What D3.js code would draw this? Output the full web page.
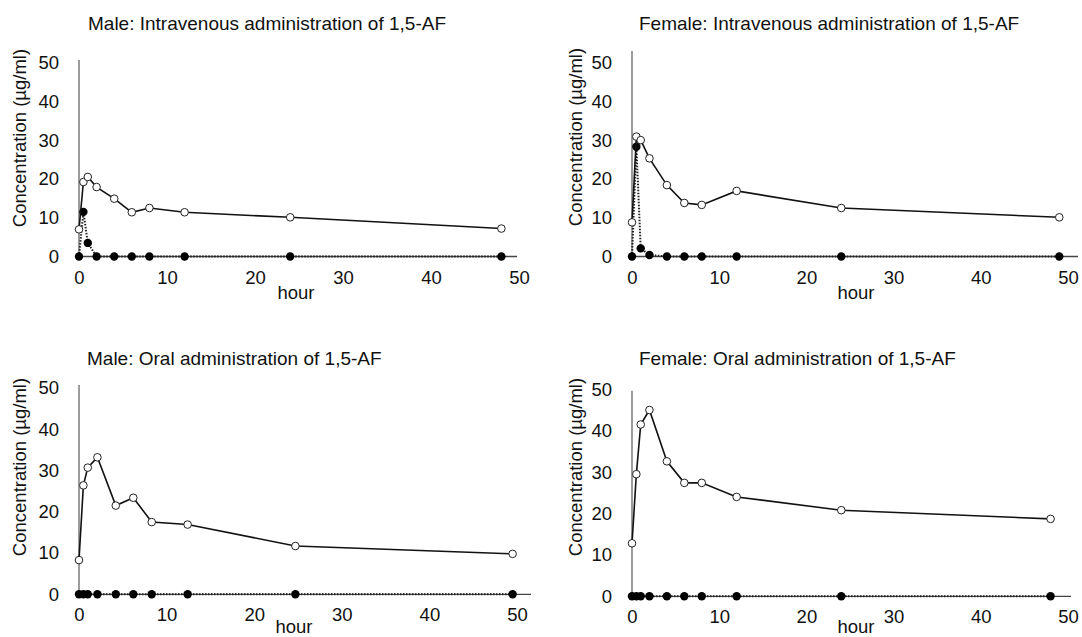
<!DOCTYPE html>
<html>
<head>
<meta charset="utf-8">
<script src="https://cdn.jsdelivr.net/npm/d3@7"></script>
<style>
	body { margin: 0; background: #fff; }
	svg { display: block; }
	text { font-family: "Liberation Sans", Arial, sans-serif; fill: #111; }
</style>
</head>
<body>
<svg id="chart"></svg>
<script>
var width = 1082,
	height = 637

// sampling times (hour)
var maleIvTime = [0, 0.5, 1, 2, 4, 6, 8, 12, 24, 48]
var femaleIvTime = [0, 0.5, 1, 2, 4, 6, 8, 12, 24, 49]
var maleOralTime = [0, 0.5, 1, 2.1, 4.2, 6.2, 8.3, 12.4, 24.7, 49.5]
var femaleOralTime = [0, 0.5, 1, 2, 4, 6, 8, 12, 24, 48]

// open circles, solid line
var maleIvOpen = [7.0, 19.2, 20.5, 17.9, 14.9, 11.4, 12.5, 11.4, 10.1, 7.2]
var femaleIvOpen = [8.8, 30.9, 30.0, 25.3, 18.4, 13.8, 13.3, 16.9, 12.5, 10.1]
var maleOralOpen = [8.3, 26.4, 30.7, 33.2, 21.5, 23.4, 17.5, 16.9, 11.7, 9.8]
var femaleOralOpen = [12.8, 29.5, 41.5, 45.0, 32.6, 27.4, 27.4, 24.0, 20.8, 18.7]

// filled circles, dotted line
var maleIvFilled = [0, 11.5, 3.5, 0, 0, 0, 0, 0, 0, 0]
var femaleIvFilled = [0, 28.3, 2.1, 0.4, 0, 0, 0, 0, 0, 0]
var maleOralFilled = [0, 0, 0, 0, 0, 0, 0, 0, 0, 0]
var femaleOralFilled = [0, 0, 0, 0, 0, 0, 0, 0, 0, 0]

var titles = [
	"Male: Intravenous administration of 1,5-AF",
	"Female: Intravenous administration of 1,5-AF",
	"Male: Oral administration of 1,5-AF",
	"Female: Oral administration of 1,5-AF"
]
var xTicks = [0, 10, 20, 30, 40, 50]
var yTicks = [0, 10, 20, 30, 40, 50]
var yLabel = "Concentration (\u00b5g/ml)"
var xLabel = "hour"

var panels = [
	{ time: maleIvTime, open: maleIvOpen, filled: maleIvFilled, title: titles[0],
		x0: 79, x1: 519, y0: 256.5, y1: 62.5, yTop: 60, xEnd: 517,
		tx: 88, ty: 30, lx: 20, ly: 138, hx: 296, hy: 299 },
	{ time: femaleIvTime, open: femaleIvOpen, filled: femaleIvFilled, title: titles[1],
		x0: 632, x1: 1068, y0: 256.5, y1: 62.5, yTop: 51, xEnd: 1078,
		tx: 639, ty: 30, lx: 576, ly: 137, hx: 856, hy: 299 },
	{ time: maleOralTime, open: maleOralOpen, filled: maleOralFilled, title: titles[2],
		x0: 79, x1: 517, y0: 594.3, y1: 388, yTop: 385, xEnd: 531,
		tx: 87, ty: 365, lx: 20, ly: 467, hx: 294, hy: 633 },
	{ time: femaleOralTime, open: femaleOralOpen, filled: femaleOralFilled, title: titles[3],
		x0: 632, x1: 1068, y0: 596.3, y1: 389.3, yTop: 390.7, xEnd: 1071,
		tx: 639, ty: 365, lx: 576, ly: 467, hx: 856, hy: 633 }
]

var svg = d3.select("#chart")
	.attr("width", width)
	.attr("height", height)

function drawPanel(p) {
	var x = d3.scaleLinear().domain([0, 50]).range([p.x0, p.x1])
	var y = d3.scaleLinear().domain([0, 50]).range([p.y0, p.y1])
	var g = svg.append("g")

	var openPts = p.time.map(function (t, i) { return { t: t, v: p.open[i] } })
	var filledPts = p.time.map(function (t, i) { return { t: t, v: p.filled[i] } })

	// axes (labels only, lines drawn by hand)
	g.append("g")
		.attr("transform", "translate(0," + y(0) + ")")
		.call(d3.axisBottom(x).tickValues(xTicks).tickSize(0).tickPadding(14))
		.call(function (a) { a.select(".domain").remove() })
		.selectAll("text")
		.style("font-size", "18.5px")
		.attr("fill", "#111")
	g.append("g")
		.attr("transform", "translate(" + x(0) + ",0)")
		.call(d3.axisLeft(y).tickValues(yTicks).tickSize(0).tickPadding(20))
		.call(function (a) { a.select(".domain").remove() })
		.selectAll("text")
		.style("font-size", "18.5px")
		.attr("fill", "#111")

	g.append("line")
		.attr("x1", x(0)).attr("x2", p.xEnd)
		.attr("y1", y(0)).attr("y2", y(0))
		.attr("stroke", "#444").attr("stroke-width", 1.3)
	g.append("line")
		.attr("x1", x(0)).attr("x2", x(0))
		.attr("y1", y(0)).attr("y2", p.yTop)
		.attr("stroke", "#666").attr("stroke-width", 1.3)

	var line = d3.line()
		.x(function (d) { return x(d.t) })
		.y(function (d) { return y(d.v) })

	// dotted series
	g.append("path")
		.datum(filledPts)
		.attr("d", line)
		.attr("fill", "none")
		.attr("stroke", "#222")
		.attr("stroke-width", 2)
		.attr("stroke-dasharray", "1.5,1.5")
	g.selectAll(".filled")
		.data(filledPts)
		.enter().append("circle")
		.attr("class", "filled")
		.attr("cx", function (d) { return x(d.t) })
		.attr("cy", function (d) { return y(d.v) })
		.attr("r", 4.2)
		.attr("fill", "#000")

	// solid series
	g.append("path")
		.datum(openPts)
		.attr("d", line)
		.attr("fill", "none")
		.attr("stroke", "#111")
		.attr("stroke-width", 1.6)
	g.selectAll(".open")
		.data(openPts)
		.enter().append("circle")
		.attr("class", "open")
		.attr("cx", function (d) { return x(d.t) })
		.attr("cy", function (d) { return y(d.v) })
		.attr("r", 3.8)
		.attr("fill", "#fff")
		.attr("stroke", "#222")
		.attr("stroke-width", 1)

	g.append("text")
		.attr("x", p.tx)
		.attr("y", p.ty)
		.style("font-size", "19px")
		.text(p.title)
	g.append("text")
		.attr("transform", "translate(" + p.lx + "," + p.ly + ") rotate(-90)")
		.attr("text-anchor", "middle")
		.attr("dy", "0.35em")
		.style("font-size", "18.5px")
		.text(yLabel)
	g.append("text")
		.attr("x", p.hx)
		.attr("y", p.hy)
		.attr("text-anchor", "middle")
		.style("font-size", "18.5px")
		.text(xLabel)
}

panels.forEach(drawPanel)
</script>
</body>
</html>
